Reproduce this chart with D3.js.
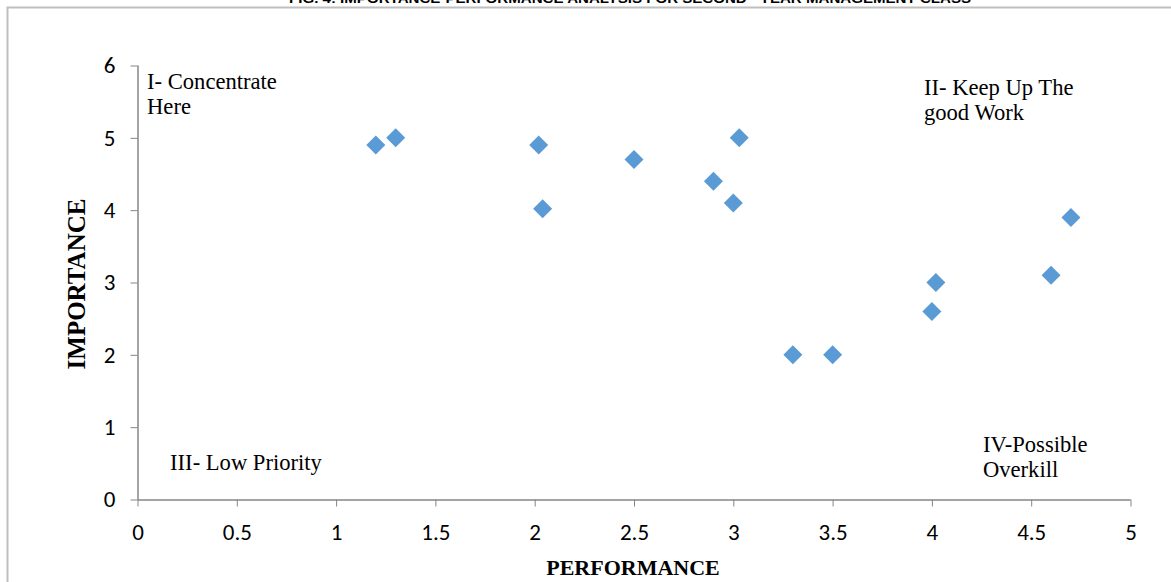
<!DOCTYPE html>
<html>
<head>
<meta charset="utf-8">
<script src="https://cdn.jsdelivr.net/npm/d3@7"></script>
<style>
  html, body { margin: 0; padding: 0; background: #fff; }
  svg { display: block; }
</style>
</head>
<body>
<svg id="chart" width="1171" height="582"></svg>
<script>
// Importance–performance scores, one entry per item
const performance = [1.2, 1.3, 2.02, 2.04, 2.5, 2.9, 3.0, 3.03, 3.3, 3.5, 4.0, 4.02, 4.6, 4.7];
const importance  = [4.9, 5.0, 4.9, 4.02, 4.7, 4.4, 4.1, 5.0, 2.0, 2.0, 2.6, 3.0, 3.1, 3.9];

const xTicks = [0, 0.5, 1, 1.5, 2, 2.5, 3, 3.5, 4, 4.5, 5];
const yTicks = [0, 1, 2, 3, 4, 5, 6];

const quadrants = [
  { lines: ["I- Concentrate", "Here"], px: 0.048, iy: 5.675 },
  { lines: ["II- Keep Up The", "good Work"], px: 3.96, iy: 5.592 },
  { lines: ["III- Low Priority"], px: 0.164, iy: 0.408 },
  { lines: ["IV-Possible", "Overkill"], px: 4.257, iy: 0.657 }
];

const title = "FIG. 4: IMPORTANCE-PERFORMANCE ANALYSIS FOR SECOND - YEAR MANAGEMENT CLASS";

const svg = d3.select("#chart");
const axisColor = "#868686";
const markColor = "#5b9bd5";

const x = d3.scaleLinear().domain([0, 5]).range([137.5, 1130.5]);
const y = d3.scaleLinear().domain([0, 6]).range([499.5, 65.5]);

// figure caption (runs off the top edge) and frame
svg.append("text")
  .attr("x", 630).attr("y", 3)
  .attr("text-anchor", "middle")
  .attr("font-family", "Liberation Sans, Arial, sans-serif")
  .attr("font-weight", "bold")
  .attr("font-size", 13)
  .attr("textLength", 682)
  .attr("lengthAdjust", "spacingAndGlyphs")
  .attr("fill", "#000")
  .text(title);

svg.append("path")
  .attr("d", "M7.5,600 L7.5,7.5 L1200,7.5")
  .attr("fill", "none")
  .attr("stroke", "#bfbfbf")
  .attr("stroke-width", 2);

const tickFont = "Carlito, Lato, 'Open Sans', sans-serif";

// x axis
const gx = svg.append("g")
  .attr("transform", `translate(0,${y(0)})`)
  .call(d3.axisBottom(x).tickValues(xTicks).tickSize(7).tickPadding(17)
    .tickFormat(d => String(d)));
// y axis
const gy = svg.append("g")
  .attr("transform", `translate(${x(0)},0)`)
  .call(d3.axisLeft(y).tickValues(yTicks).tickSize(7).tickPadding(15)
    .tickFormat(d => String(d)));

[gx, gy].forEach(g => {
  g.select(".domain").attr("stroke", axisColor).attr("stroke-width", 1.5);
  g.selectAll(".tick line").attr("stroke", axisColor).attr("stroke-width", 1);
  g.selectAll(".tick text")
    .attr("fill", "#000")
    .attr("font-family", tickFont)
    .attr("font-size", 23);
});
gx.select(".domain").attr("d", `M${x(0)},0.5H${x(5)}`);
gy.select(".domain").attr("d", `M0.5,${y(6)}V${y(0)}`);
gx.selectAll(".tick text").attr("dy", "0.71em");

// axis titles
svg.append("text")
  .attr("x", 633).attr("y", 575)
  .attr("text-anchor", "middle")
  .attr("font-family", "Liberation Serif, 'Times New Roman', serif")
  .attr("font-weight", "bold").attr("font-size", 22)
  .text("PERFORMANCE");

svg.append("text")
  .attr("transform", `translate(85,${284}) rotate(-90)`)
  .attr("text-anchor", "middle")
  .attr("font-family", "Liberation Serif, 'Times New Roman', serif")
  .attr("font-weight", "bold").attr("font-size", 25)
  .text("IMPORTANCE");

// quadrant labels
quadrants.forEach(q => {
  const t = svg.append("text")
    .attr("x", x(q.px)).attr("y", y(q.iy))
    .attr("font-family", "Liberation Serif, 'Times New Roman', serif")
    .attr("font-size", 22.6)
    .attr("fill", "#000");
  q.lines.forEach((line, i) => {
    t.append("tspan").attr("x", x(q.px)).attr("dy", i === 0 ? 0 : 25).text(line);
  });
});

// data points as diamonds
const points = performance.map((p, i) => ({ p, imp: importance[i] }));
svg.append("g").selectAll("path")
  .data(points)
  .join("path")
  .attr("transform", d => `translate(${x(d.p)},${y(d.imp)})`)
  .attr("d", "M0,-9.5L9.5,0L0,9.5L-9.5,0Z")
  .attr("fill", markColor);
</script>
</body>
</html>
